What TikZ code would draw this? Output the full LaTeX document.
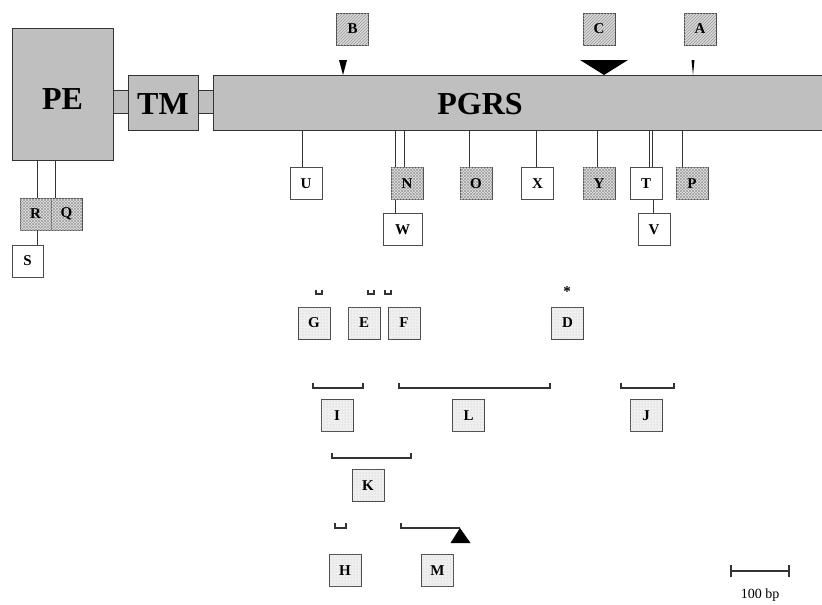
\documentclass[tikz,border=0pt]{standalone}
\usepackage{fontspec}
\setmainfont{Liberation Serif}
\usetikzlibrary{patterns,positioning}

\begin{document}
\begin{tikzpicture}[
    x=1pt, y=-1pt,
    every node/.style={
        inner sep=0pt,
        font=\fontsize{15}{15}\selectfont\bfseries
    },
    box/.style={
        draw=gray!60!black,
        line width=0.9pt,
        minimum size=32pt
    },
    plainbox/.style={box, fill=white},
    hatchbox/.style={box, fill=gray!30,
        postaction={pattern=north east lines, pattern color=gray!80}},
    meshbox/.style={box, fill=gray!20,
        postaction={pattern=north east lines, pattern color=gray!75},
        postaction={pattern=north west lines, pattern color=gray!75}},
    dotbox/.style={box, fill=gray!12,
        postaction={pattern=dots, pattern color=gray!55}},
    bar/.style={draw=gray!40!black, line width=0.9pt, fill=gray!50},
    link/.style={draw=gray!40!black, line width=0.9pt},
    brk/.style={draw=gray!40!black, line width=1.1pt},
    big/.style={font=\fontsize{32}{32}\selectfont\bfseries}
]
\useasboundingbox (0,0) rectangle (822,605);

% main blocks
\node[bar, minimum width=101pt, minimum height=132pt] (PE) at (62.5,94) {};
\node[big] (pelabel) at (62.5,99) {PE};
\node[bar, minimum width=15pt, minimum height=23pt] (lnk1) at (120.5,101.5) {};
\node[bar, minimum width=70pt, minimum height=55pt] (TM) at (163,102.5) {};
\node[big] (tmlabel) at (163,104) {TM};
\node[bar, minimum width=15pt, minimum height=23pt] (lnk2) at (205.5,101.5) {};
\node[bar, anchor=west, minimum width=609pt, minimum height=55pt] (pgrs) at (213,102.5) {};
\node[big] (pgrslabel) at (480,104) {PGRS};

% boxes above the bar
\node[hatchbox] (B) at (352.5,29) {B};
\node[hatchbox] (C) at (599,29) {C};
\node[hatchbox] (A) at (700,29) {A};

% markers on the bar
\fill (343,75) -- (339,60) -- (347,60) -- cycle;
\fill (604,75) -- (580,60) -- (628,60) -- cycle;
\fill (693,75) -- (691.5,60) -- (694.5,60) -- cycle;

% boxes below the bar
\node[plainbox] (U) at (306,183.5) {U};
\node[meshbox] (N) at (407,183.5) {N};
\node[meshbox] (O) at (476,183.5) {O};
\node[plainbox] (X) at (537.5,183.5) {X};
\node[meshbox] (Y) at (599,183.5) {Y};
\node[plainbox] (T) at (646,183.5) {T};
\node[meshbox] (P) at (692,183.5) {P};
\node[plainbox, minimum width=39pt] (W) at (402.5,229.5) {W};
\node[plainbox] (V) at (654,229.5) {V};

\foreach \n/\s in {U/-4,N/-12,N/-3,O/-7,X/-1.5,Y/-2,T/3,T/6,P/-10}
    \draw[link] ([xshift=\s]\n.north) -- ([xshift=\s]\n.north |- pgrs.south);
\draw[link] ([xshift=-7.5]W.north) -- ([xshift=-7.5]W.north |- N.south);
\draw[link] ([xshift=-1]V.north) -- ([xshift=-1]V.north |- T.south);

% boxes under PE
\node[meshbox, minimum width=31pt] (R) at (35.5,214) {R};
\node[meshbox, minimum width=31pt] (Q) at (66.5,214) {Q};
\node[plainbox, minimum width=31pt] (S) at (27.5,261) {S};
\draw[link] ([xshift=1.5]R.north) -- ([xshift=1.5]R.north |- PE.south);
\draw[link] ([xshift=-11.5]Q.north) -- ([xshift=-11.5]Q.north |- PE.south);
\draw[link] ([xshift=9.5]S.north) -- ([xshift=9.5]S.north |- R.south);

% lower group
\node[dotbox] (G) at (314,323) {G};
\node[dotbox] (E) at (364,323) {E};
\node[dotbox] (F) at (404,323) {F};
\node[dotbox] (D) at (567.5,323) {D};
\node (star) at (567,292) {*};
\node[dotbox] (I) at (337,415.5) {I};
\node[dotbox] (L) at (468.5,415.5) {L};
\node[dotbox] (J) at (646,415.5) {J};
\node[dotbox] (K) at (368,485.5) {K};
\node[dotbox] (H) at (345,570.5) {H};
\node[dotbox] (M) at (437.5,570.5) {M};

% brackets
\draw[brk] (316,290) -- (316,294) -- (322,294) -- (322,290);
\draw[brk] (368,290) -- (368,294) -- (374,294) -- (374,290);
\draw[brk] (385,290) -- (385,294) -- (391,294) -- (391,290);
\draw[brk] (313,383) -- (313,388) -- (363,388) -- (363,383);
\draw[brk] (399,383) -- (399,388) -- (550,388) -- (550,383);
\draw[brk] (621,383) -- (621,388) -- (674,388) -- (674,383);
\draw[brk] (332,453) -- (332,458) -- (411,458) -- (411,453);
\draw[brk] (335,523) -- (335,528) -- (346,528) -- (346,523);
\draw[brk] (401,523) -- (401,528) -- (460,528);
\fill (460,528) -- (470.5,543) -- (450.5,543) -- cycle;

% scale bar
\draw[brk] (731,565) -- (731,577) (731,571) -- (789,571) (789,565) -- (789,577);
\node[font=\fontsize{14}{14}\selectfont] (scale) at (760,595) {100 bp};
\end{tikzpicture}
\end{document}
